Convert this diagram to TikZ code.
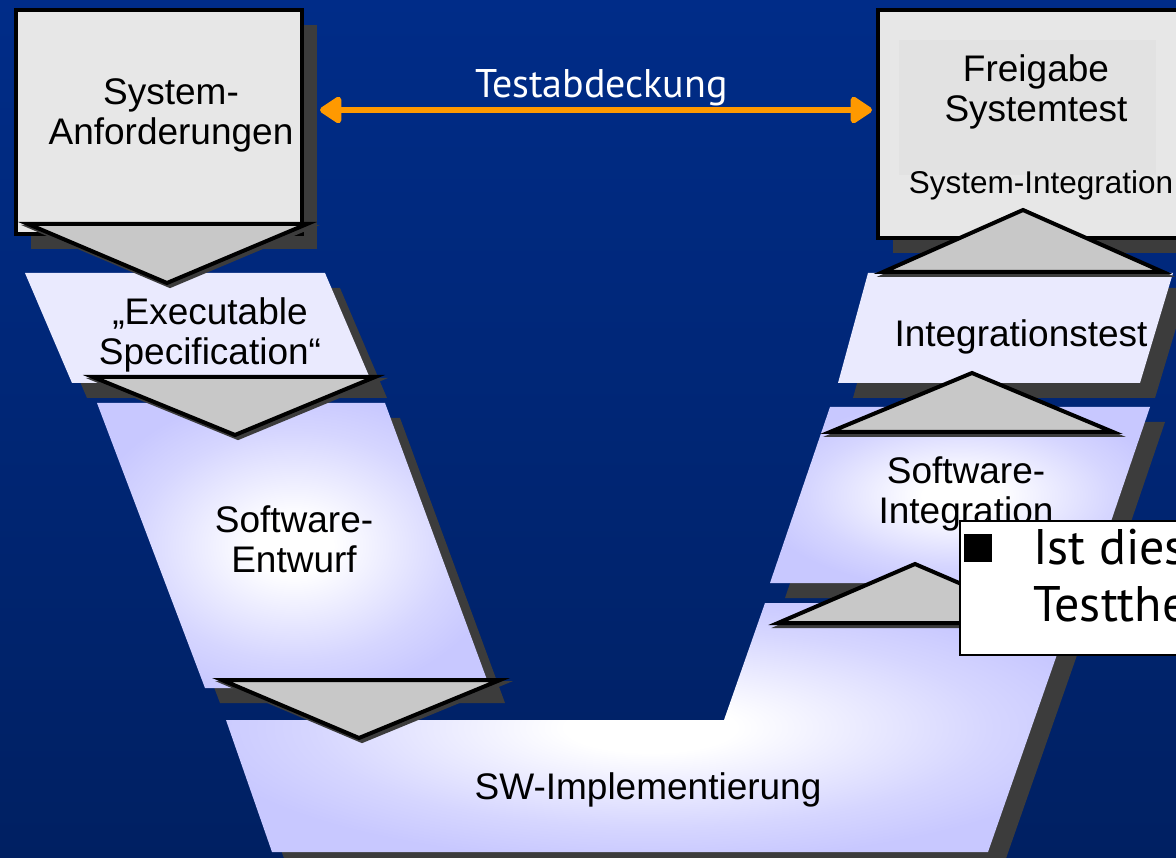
\documentclass[tikz,border=0pt]{standalone}
\usepackage{fontspec}
\setmainfont{Liberation Sans}
\newfontfamily\dinfont{PT Sans}
\usepackage{xcolor}
\usetikzlibrary{calc, arrows.meta, shadows}

\definecolor{bgtop}{RGB}{0,44,136}
\definecolor{bgbot}{RGB}{0,32,98}
\definecolor{boxgrey}{RGB}{231,231,231}
\definecolor{innergrey}{RGB}{226,226,226}
\definecolor{chevgrey}{RGB}{200,200,200}
\definecolor{shadowgrey}{RGB}{60,60,60}
\definecolor{lavender}{RGB}{234,234,254}
\definecolor{lilac}{RGB}{200,200,255}
\definecolor{testorange}{RGB}{255,153,0}

% white core fading out to lilac
\pgfdeclareradialshading{stepglow}{\pgfpoint{0bp}{0bp}}{color(0bp)=(white); color(5bp)=(white); color(20bp)=(lilac!75); color(27bp)=(lilac); color(50bp)=(lilac)}

\begin{document}
\begin{tikzpicture}[x=1pt, y=-1pt, >=latex]
		\tikzstyle{shadowed} = [drop shadow={shadow xshift=15pt, shadow yshift=-15pt, fill=shadowgrey, opacity=1}]
		\tikzstyle{greybox} = [draw=black, line width=4pt, fill=boxgrey, rectangle, inner sep=0pt, shadowed]
		\tikzstyle{flatstep} = [fill=lavender, shadowed]
		\tikzstyle{shadestep} = [shading=stepglow, shade, shadowed]
		\tikzstyle{chev} = [draw=black, line width=4pt, fill=chevgrey, drop shadow={shadow xshift=3pt, shadow yshift=-3pt, fill=shadowgrey, draw=shadowgrey, line width=4pt, opacity=1}]
		\tikzstyle{steptext} = [inner sep=0pt, align=center, font=\fontsize{37}{40}\selectfont]
		\tikzstyle{testarrow} = [draw=testorange, line width=6pt, {Triangle[length=24pt, width=30pt, round]}-{Triangle[length=24pt, width=30pt, round]}]
		
		\useasboundingbox (0, 0) rectangle (1176, 858);
		\shade[top color=bgtop, bottom color=bgbot] (0, 0) rectangle (1176, 858);
		
		% left branch, top down
		\node[greybox, minimum width=286pt, minimum height=224pt] 	at (159, 122)	(sysreq)	{};
		\node[steptext] 	at (171, 115)	(sysreqtext) 	{System-\\Anforderungen};
		
		\path[flatstep] (25, 273) -- (325, 273) -- (372, 383) -- (72, 383) -- cycle;
		\node[steptext] 	at (210, 335)	(exectext) 	{„Executable\\Specification“};
		\draw[chev] (28, 224) -- (307, 224) -- (167, 283) -- cycle;
		
		\path[shadestep] (97, 403) -- (385, 403) -- (490, 688) -- (205, 688) -- cycle;
		\node[steptext] 	at (294, 539)	(designtext) 	{Software-\\Entwurf};
		\draw[chev] (93, 377) -- (375, 377) -- (235, 435) -- cycle;
		
		% bottom of the V
		\path[shadestep] (226, 720) -- (724, 720) -- (765, 603) -- (1075, 603) -- (988, 852) -- (272, 852) -- cycle;
		\node[steptext] 	at (648, 790)	(impltext) 	{SW-Implementierung};
		\draw[chev] (222, 680) -- (500, 680) -- (359, 738) -- cycle;
		
		% right branch, bottom up
		\node[greybox, minimum width=316pt, minimum height=228pt] 	at (1036, 124)	(release)	{};
		\fill[innergrey] (899, 40) rectangle (1156, 175);
		\node[steptext] 	at (1036, 92)	(releasetext) 	{Freigabe\\Systemtest};
		\node[steptext, font=\fontsize{31.5}{36}\selectfont] 	at (1041, 185)	(systext) 	{System-Integration};
		
		\path[flatstep] (868, 273) -- (1173, 273) -- (1140, 383) -- (838, 383) -- cycle;
		\node[steptext] 	at (1021, 337)	(inttesttext) 	{Integrationstest};
		\draw[chev] (883, 272) -- (1163, 272) -- (1023, 210) -- cycle;
		
		\path[shadestep] (830, 407) -- (1150, 407) -- (1090, 583) -- (770, 583) -- cycle;
		\node[steptext] 	at (966, 494)	(swinttext) 	{Software-\\Integration};
		\draw[chev] (830, 432) -- (1113, 432) -- (972, 373) -- cycle;
		\draw[chev] (778, 623) -- (1052, 623) -- (915, 564) -- cycle;
		
		% callout
		\node[draw=black, line width=2pt, fill=white, minimum width=240pt, minimum height=134pt, anchor=north west, inner sep=0pt] 	at (959, 520)	(callout)	{};
		\node[fill=black, minimum size=28pt, inner sep=0pt] 	at (977.5, 548)	(bullet)	{};
		\node[anchor=north west, inner sep=0pt, align=left, font=\dinfont\fontsize{50}{57}\selectfont] 	at (1033, 529)	(question) 	{Ist dies\\Testthe};
		
		\draw[testarrow, shorten <=16pt, shorten >=4pt] ([yshift=12pt]sysreq.east) -- node[above=1pt, pos=0.52, inner sep=0pt, text=white, font=\dinfont\fontsize{40}{48}\selectfont] (covtext) {Testabdeckung} ([yshift=14pt]release.west);
	\end{tikzpicture}
\end{document}
